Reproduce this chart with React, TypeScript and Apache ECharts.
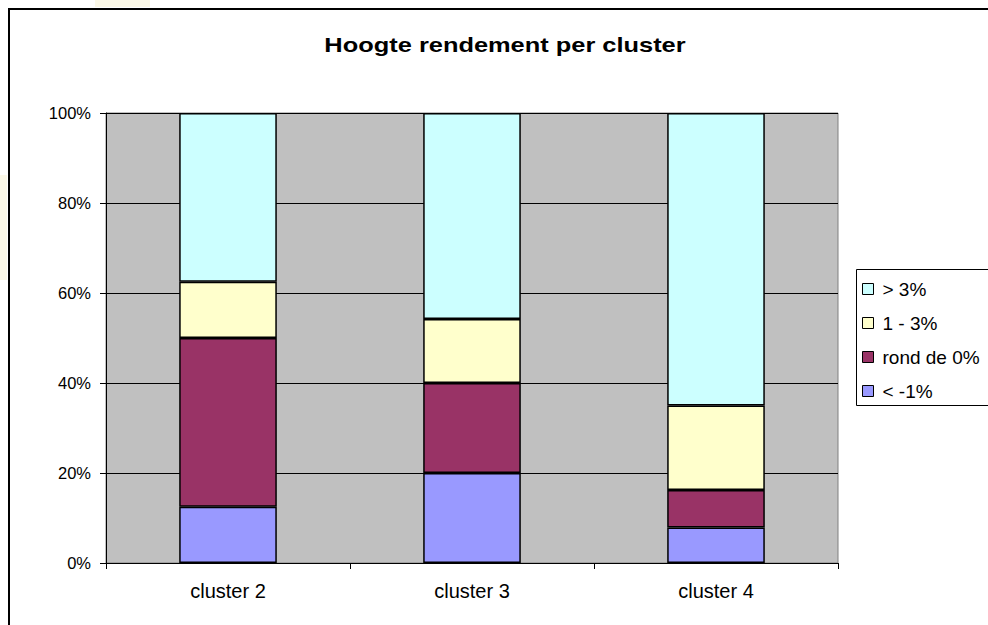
import React, { useEffect, useRef } from "react";
import * as echarts from "echarts";

const categories = ["cluster 2", "cluster 3", "cluster 4"];
const seriesNames = ["< -1%", "rond de 0%", "1 - 3%", "> 3%"];
const belowMinus1 = [12.5, 20.0, 7.9];
const roundZero = [37.5, 20.0, 8.3];
const oneToThree = [12.5, 14.2, 18.8];
const aboveThree = [37.5, 45.8, 65.0];
const yTicks = [0, 20, 40, 60, 80, 100];
const seriesColors = ["#9999FF", "#993366", "#FFFFCC", "#CCFFFF"];
const titleText = "Hoogte rendement per cluster";

export default function App() {
  const ref = useRef<HTMLDivElement>(null);
  useEffect(() => {
    if (!ref.current) return;
    const chart = echarts.init(ref.current, null, { renderer: "svg" });
    const values = [belowMinus1, roundZero, oneToThree, aboveThree];
    chart.setOption({
      animation: false,
      backgroundColor: "#ffffff",
      textStyle: { fontFamily: "'Liberation Sans', Arial, sans-serif" },
      graphic: [
        { type: "rect", shape: { x: 95, y: 0, width: 55, height: 7 }, style: { fill: "#FBF8E8" }, silent: true },
        { type: "rect", shape: { x: 0, y: 175, width: 7, height: 105 }, style: { fill: "#FBF8E8" }, silent: true },
        { type: "line", shape: { x1: 8, y1: 9, x2: 988, y2: 9 }, style: { stroke: "#000", lineWidth: 2 }, silent: true },
        { type: "line", shape: { x1: 9, y1: 8, x2: 9, y2: 625 }, style: { stroke: "#000", lineWidth: 2 }, silent: true },
        {
          type: "rect",
          z: 0,
          silent: true,
          shape: { x: 856.5, y: 269.5, width: 160, height: 136 },
          style: { fill: "#fff", stroke: "#000", lineWidth: 1 },
        },
        {
          type: "text",
          x: 505,
          y: 45,
          scaleX: 1.21,
          silent: true,
          style: {
            text: titleText,
            x: 0,
            y: 0,
            align: "center",
            verticalAlign: "middle",
            fill: "#000",
            font: "bold 21px 'Liberation Sans', Arial, sans-serif",
          },
        },
      ],
      legend: {
        orient: "vertical",
        left: 856,
        top: 269,
        z: 10,
        data: [...seriesNames].reverse(),
        icon: "rect",
        itemWidth: 11,
        itemHeight: 11,
        itemGap: 14,
        padding: [10, 10, 4, 6],
        backgroundColor: "transparent",
        borderWidth: 0,
        itemStyle: { borderColor: "#000", borderWidth: 1 },
        textStyle: { fontSize: 19, color: "#000", lineHeight: 20, padding: [0, 0, 0, 4] },
      },
      grid: {
        left: 106,
        right: 150,
        top: 113,
        bottom: 62,
        show: true,
        backgroundColor: "#C0C0C0",
        borderColor: "#808080",
        borderWidth: 1,
      },
      xAxis: {
        type: "category",
        data: categories,
        axisLine: { lineStyle: { color: "#000", width: 1 } },
        axisTick: { show: true, alignWithLabel: false, length: 6, lineStyle: { color: "#000" } },
        axisLabel: { fontSize: 20, color: "#000", margin: 18 },
        splitLine: { show: false },
      },
      yAxis: {
        type: "value",
        min: yTicks[0],
        max: yTicks[yTicks.length - 1],
        interval: yTicks[1] - yTicks[0],
        axisLine: { show: true, lineStyle: { color: "#000", width: 1 } },
        axisTick: { show: true, length: 6, lineStyle: { color: "#000" } },
        axisLabel: { fontSize: 16.5, color: "#000", margin: 15, formatter: "{value}%" },
        splitLine: { show: true, lineStyle: { color: "#000", width: 1 } },
      },
      series: seriesNames.map((name, i) => ({
        name,
        type: "bar",
        stack: "total",
        barWidth: "40%",
        data: values[i],
        itemStyle: { color: seriesColors[i], borderColor: "#000", borderWidth: 1.5 },
      })),
    });
    return () => chart.dispose();
  }, []);
  return (
    <div
      ref={ref}
      style={{ position: "absolute", left: 0, top: 0, width: 988, height: 625 }}
    />
  );
}
